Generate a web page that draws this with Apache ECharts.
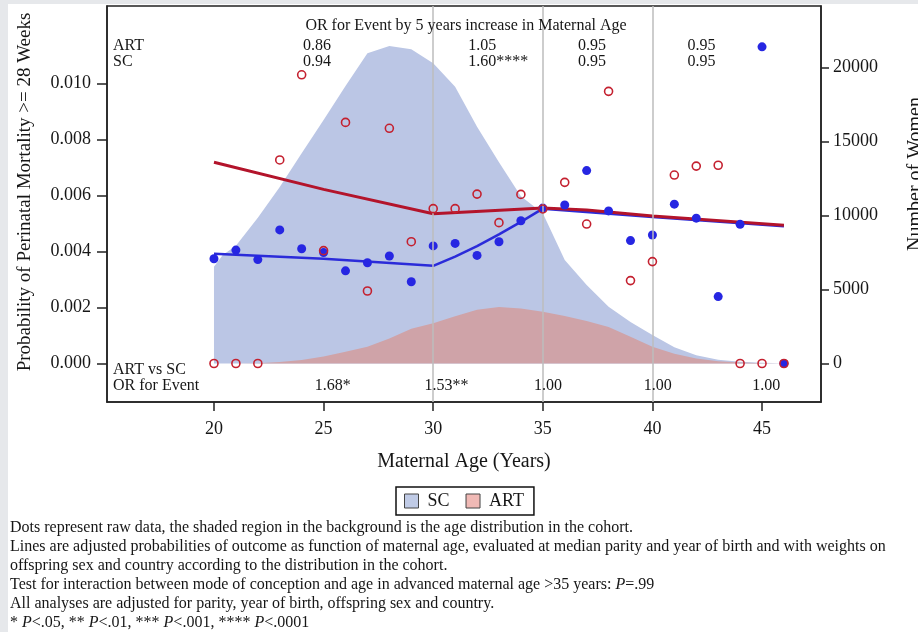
<!DOCTYPE html>
<html>
<head>
<meta charset="utf-8">
<script src="https://cdn.jsdelivr.net/npm/echarts@6/dist/echarts.min.js"></script>
<style>
  html, body { margin: 0; padding: 0; background: #fff; }
  #main { width: 918px; height: 632px; }
</style>
</head>
<body>
<div id="main"></div>
<script>
// maternal age of the raw data points
var ages = [20, 21, 22, 23, 24, 25, 26, 27, 28, 29, 30, 31, 32, 33, 34, 35, 36, 37, 38, 39, 40, 41, 42, 43, 44, 45, 46];

// raw probabilities (dots)
var artRaw = [0, 0, 0, 0.00727, 0.01031, 0.00403, 0.00861, 0.00259, 0.00840, 0.00435, 0.00553, 0.00553, 0.00605, 0.00503,
  0.00604, 0.00552, 0.00647, 0.00498, 0.00972, 0.00296, 0.00364, 0.00673, 0.00705, 0.00708, 0, 0, 0];
var scRaw = [0.00374, 0.00405, 0.00371, 0.00477, 0.00410, 0.00396, 0.00331, 0.00360, 0.00384, 0.00292, 0.00420, 0.00429,
  0.00386, 0.00435, 0.00510, 0.00555, 0.00566, 0.00689, 0.00545, 0.00439, 0.00459, 0.00569, 0.00519, 0.00239, 0.00497, 0.01131, 0];

// age distribution in the cohort (number of women)
var scDistAges = [20, 20.4, 21, 22, 23, 24, 25, 26, 27, 28, 29, 30, 31, 32, 33, 34, 35, 36, 37, 38, 39, 40, 41, 42, 43, 44, 45, 46];
var scDist = [6540, 7330, 7950, 9850, 11930, 14200, 16450, 18750, 20960, 21450, 21230, 20280, 18700, 16000, 13600, 11300, 10150,
  7000, 5300, 3840, 2800, 1930, 1100, 560, 260, 120, 50, 14];
var artDist = [0, 5, 20, 100, 240, 480, 790, 1140, 1690, 2350, 2720, 3200, 3640, 3820, 3720, 3500, 3210, 2870, 2460, 1800, 1140,
  660, 340, 160, 60, 20, 5];

// adjusted probabilities (lines)
var artLineAges = [20, 25, 30, 35, 37, 40, 46];
var artLine = [0.00719, 0.00622, 0.00535, 0.00555, 0.00548, 0.00527, 0.00494];
var scLineAges = [20, 25, 30, 31, 32, 33, 34, 35, 40, 46];
var scLine = [0.00392, 0.00374, 0.00349, 0.00382, 0.00419, 0.00461, 0.00506, 0.00553, 0.00523, 0.00490];

var splitAges = [30, 35, 40];
var xTicks = [20, 25, 30, 35, 40, 45];
var leftTicks = [0, 0.002, 0.004, 0.006, 0.008, 0.010];
var rightTicks = [0, 5000, 10000, 15000, 20000];

// odds ratio annotations
var orTitle = 'OR for Event by 5 years increase in Maternal Age';
var orAges = [24.06, 31.6, 36.6, 41.6];
var orArt = ['0.86', '1.05', '0.95', '0.95'];
var orSc = ['0.94', '1.60****', '0.95', '0.95'];
var vsAges = [24.6, 29.6, 34.6, 39.6, 44.55];
var orVs = ['1.68*', '1.53**', '1.00', '1.00', '1.00'];

var notes = [
  'Dots represent raw data, the shaded region in the background is the age distribution in the cohort.',
  'Lines are adjusted probabilities of outcome as function of maternal age, evaluated at median parity and year of birth and with weights on',
  'offspring sex and country according to the distribution in the cohort.',
  'Test for interaction between mode of conception and age in advanced maternal age >35 years: {i|P}=.99',
  'All analyses are adjusted for parity, year of birth, offspring sex and country.',
  '* {i|P}<.05, ** {i|P}<.01, *** {i|P}<.001, **** {i|P}<.0001'
];

var FONT = '"Liberation Serif", "Times New Roman", serif';
var INK = '#161616';

var pair = (xs, ys) => xs.map((x, i) => [x, ys[i]]);

var chartDom = document.getElementById('main');
var myChart = echarts.init(chartDom);
var option;

option = {
  animation: false,
  backgroundColor: '#fff',
  grid: {
    left: 107,
    right: 97,
    top: 6,
    bottom: 230,
    show: true,
    borderColor: '#222',
    borderWidth: 1.5
  },
  legend: {
    left: 396,
    top: 487,
    orient: 'horizontal',
    borderColor: '#111',
    borderWidth: 1.5,
    padding: [5, 10, 5, 8],
    itemWidth: 14,
    itemHeight: 14,
    itemGap: 16,
    icon: 'rect',
    textStyle: { fontFamily: FONT, fontSize: 18, color: INK, padding: [0, 0, 0, 4] },
    data: [
      { name: 'SC', itemStyle: { color: '#c0cbe6', borderColor: '#444', borderWidth: 1 } },
      { name: 'ART', itemStyle: { color: '#f0b9b5', borderColor: '#444', borderWidth: 1 } }
    ]
  },
  xAxis: {
    type: 'value',
    min: 15.12,
    max: 47.69,
    name: 'Maternal Age (Years)',
    nameLocation: 'middle',
    nameGap: 50,
    nameTextStyle: { fontFamily: FONT, fontSize: 20, color: INK },
    axisLine: { show: true, onZero: false, lineStyle: { color: '#222', width: 1.5 } },
    axisTick: { show: true, length: 9, customValues: xTicks, lineStyle: { color: '#222', width: 1.5 } },
    axisLabel: { customValues: xTicks, margin: 18, fontFamily: FONT, fontSize: 18, color: INK },
    splitLine: { show: false }
  },
  yAxis: [
    {
      type: 'value',
      min: -0.001375,
      max: 0.012768,
      axisLine: { show: true, onZero: false, lineStyle: { color: '#222', width: 1.5 } },
      axisTick: { show: true, length: 10, customValues: leftTicks, lineStyle: { color: '#222', width: 1.5 } },
      axisLabel: {
        customValues: leftTicks,
        margin: 16,
        fontFamily: FONT,
        fontSize: 18,
        color: INK,
        formatter: v => v.toFixed(3)
      },
      splitLine: { show: false }
    },
    {
      type: 'value',
      position: 'right',
      min: -2601,
      max: 24155,
      axisLine: { show: true, onZero: false, lineStyle: { color: '#222', width: 1.5 } },
      axisTick: { show: true, length: 8, customValues: rightTicks, lineStyle: { color: '#222', width: 1.5 } },
      axisLabel: {
        customValues: rightTicks,
        margin: 12,
        fontFamily: FONT,
        fontSize: 18,
        color: INK,
        formatter: v => String(Math.round(v))
      },
      splitLine: { show: false }
    }
  ],
  series: [
    {
      name: 'SC',
      type: 'line',
      yAxisIndex: 1,
      z: 1,
      symbol: 'none',
      color: '#bbc6e5',
      lineStyle: { width: 0 },
      areaStyle: { color: '#bbc6e5', opacity: 1 },
      data: pair(scDistAges, scDist)
    },
    {
      name: 'ART',
      type: 'line',
      yAxisIndex: 1,
      z: 1,
      symbol: 'none',
      color: '#cfa3a8',
      lineStyle: { width: 0 },
      areaStyle: { color: '#cfa3a8', opacity: 1 },
      data: pair(ages, artDist)
    },
    {
      name: 'split',
      type: 'line',
      z: 2,
      data: [],
      markLine: {
        silent: true,
        symbol: ['none', 'none'],
        label: { show: false },
        lineStyle: { color: '#bdbdbd', width: 1.5, type: 'solid' },
        data: splitAges.map(a => ({ xAxis: a }))
      }
    },
    {
      name: 'SC adjusted',
      type: 'line',
      z: 3,
      symbol: 'none',
      lineStyle: { color: '#2b2bd9', width: 2.5 },
      data: pair(scLineAges, scLine)
    },
    {
      name: 'ART adjusted',
      type: 'line',
      z: 3,
      symbol: 'none',
      lineStyle: { color: '#b3142b', width: 3 },
      data: pair(artLineAges, artLine)
    },
    {
      name: 'SC raw',
      type: 'scatter',
      z: 4,
      symbolSize: 9,
      itemStyle: { color: '#2626e2', opacity: 1 },
      data: pair(ages, scRaw)
    },
    {
      name: 'ART raw',
      type: 'scatter',
      z: 5,
      symbolSize: 8,
      itemStyle: { color: 'rgba(0,0,0,0)', borderColor: '#c4202f', borderWidth: 1.6, opacity: 1 },
      data: pair(ages, artRaw)
    }
  ]
};

option && myChart.setOption(option);

// text annotations placed at axis positions
var px = a => myChart.convertToPixel({ xAxisIndex: 0 }, a);
var txt = (text, x, y, size, align, extra) => Object.assign({
  type: 'text',
  x: x,
  y: y,
  z: 10,
  style: {
    text: text,
    fontFamily: FONT,
    fontSize: size,
    fill: INK,
    align: align || 'left',
    verticalAlign: 'middle'
  }
}, extra || {});

var graphic = [
  { type: 'rect', shape: { x: 0, y: 0, width: 8, height: 632 }, style: { fill: '#e6e8eb' }, z: 0 },
  { type: 'rect', shape: { x: 0, y: 0, width: 918, height: 4 }, style: { fill: '#e6e8eb' }, z: 0 },
  txt(orTitle, 466, 26, 16, 'center'),
  txt('ART', 113, 46, 16),
  txt('SC', 113, 62, 16),
  txt('ART vs SC', 113, 370, 16),
  txt('OR for Event', 113, 386, 16),
  txt('Probability of Perinatal Mortality >= 28 Weeks', 25, 192, 19, 'center', { rotation: Math.PI / 2 }),
  txt('Number of Women', 916, 174, 20, 'center', { rotation: Math.PI / 2 })
];
orAges.forEach((a, i) => {
  graphic.push(txt(orArt[i], px(a), 46, 16));
  graphic.push(txt(orSc[i], px(a), 62, 16));
});
vsAges.forEach((a, i) => {
  graphic.push(txt(orVs[i], px(a), 386, 16));
});
notes.forEach((n, i) => {
  var t = txt(n, 10, 528 + i * 19, 16);
  t.style.rich = { i: { fontFamily: FONT, fontSize: 16, fontStyle: 'italic', fill: INK } };
  graphic.push(t);
});

myChart.setOption({ graphic: graphic });
</script>
</body>
</html>
